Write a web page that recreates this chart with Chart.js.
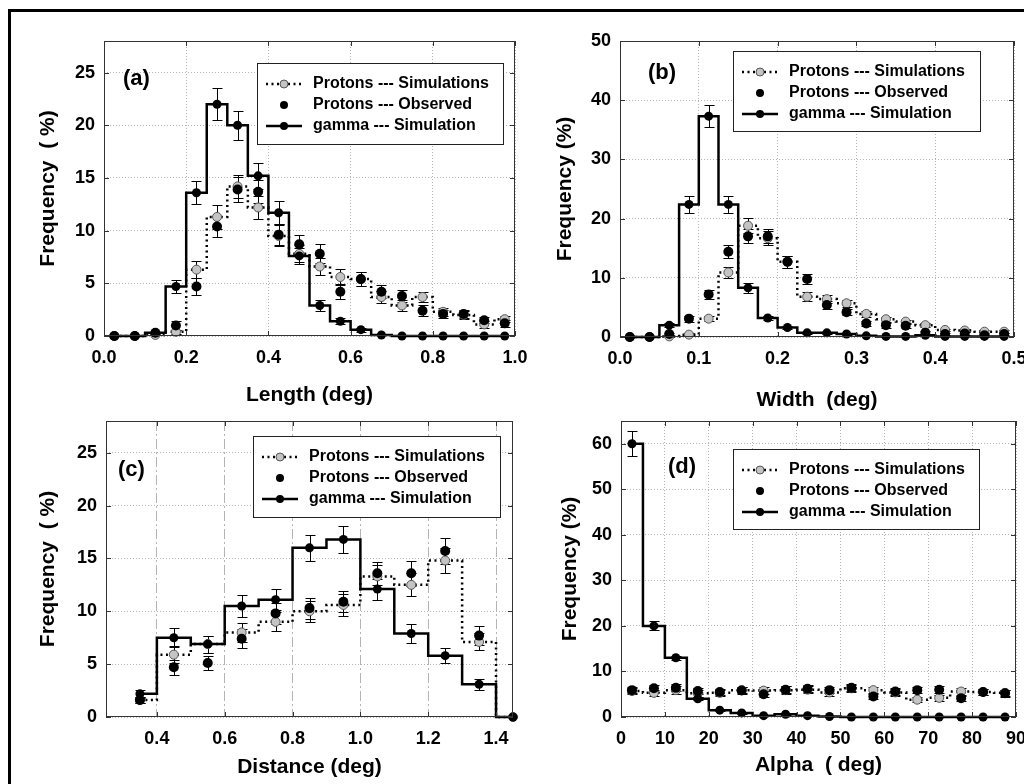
<!DOCTYPE html>
<html>
<head>
<meta charset="utf-8">
<script src="https://cdn.jsdelivr.net/npm/chart.js@4.4.1/dist/chart.umd.min.js"></script>
<style>
  html, body { margin: 0; padding: 0; background: #fff; width: 1024px; height: 784px; overflow: hidden; }
  #frame { position: absolute; left: 8px; top: 9px; width: 1100px; height: 900px;
           border-left: 3px solid #000; border-top: 3px solid #000; }
  canvas { position: absolute; }
</style>
</head>
<body>
<div id="frame"></div>
<canvas id="panelA"></canvas>
<canvas id="panelB"></canvas>
<canvas id="panelC"></canvas>
<canvas id="panelD"></canvas>
<script>
// ---- (a) Length, 0.05 deg bins ----
const lengthBins     = [0.025, 0.075, 0.125, 0.175, 0.225, 0.275, 0.325, 0.375, 0.425, 0.475, 0.525, 0.575, 0.625, 0.675, 0.725, 0.775, 0.825, 0.875, 0.925, 0.975];
const lengthTicks    = [0, 0.2, 0.4, 0.6, 0.8, 1.0];
const lengthGamma    = [0, 0, 0.3, 4.7, 13.6, 22.0, 20.0, 15.2, 11.7, 7.6, 2.9, 1.4, 0.6, 0.1, 0, 0, 0, 0, 0, 0];
const lengthGammaErr = [0, 0, 0.1, 0.6, 1.1, 1.5, 1.4, 1.2, 1.1, 0.8, 0.5, 0.3, 0.2, 0, 0, 0, 0, 0, 0, 0];
const lengthSim      = [0, 0, 0.1, 0.4, 6.3, 11.3, 14.2, 12.2, 9.5, 7.8, 6.6, 5.6, 5.4, 3.7, 2.9, 3.7, 2.3, 2.0, 1.1, 1.6];
const lengthSimErr   = [0, 0, 0, 0.2, 0.8, 1.1, 1.1, 1.1, 1.0, 0.8, 0.8, 0.8, 0.7, 0.6, 0.5, 0.5, 0.4, 0.4, 0.3, 0.3];
const lengthObs      = [0, 0, 0.3, 1.0, 4.7, 10.4, 13.9, 13.7, 9.6, 8.7, 7.8, 4.2, 5.4, 4.2, 3.8, 2.4, 2.1, 2.1, 1.5, 1.2];
const lengthObsErr   = [0, 0, 0.1, 0.4, 0.8, 1.0, 1.2, 1.1, 1.0, 0.9, 0.9, 0.7, 0.7, 0.6, 0.6, 0.5, 0.4, 0.4, 0.3, 0.3];

// ---- (b) Width, 0.025 deg bins ----
const widthBins     = [0.0125, 0.0375, 0.0625, 0.0875, 0.1125, 0.1375, 0.1625, 0.1875, 0.2125, 0.2375, 0.2625, 0.2875, 0.3125, 0.3375, 0.3625, 0.3875, 0.4125, 0.4375, 0.4625, 0.4875];
const widthTicks    = [0, 0.1, 0.2, 0.3, 0.4, 0.5];
const widthGamma    = [0, 0, 2.0, 22.4, 37.3, 22.4, 8.3, 3.2, 1.6, 0.7, 0.7, 0.5, 0.2, 0.1, 0.1, 0.3, 0.1, 0.1, 0.1, 0.1];
const widthGammaErr = [0, 0, 0.3, 1.5, 1.9, 1.5, 0.8, 0.4, 0.3, 0.2, 0.2, 0.1, 0, 0, 0, 0, 0, 0, 0, 0];
const widthSim      = [0, 0, 0.1, 0.4, 3.1, 10.9, 18.8, 16.7, 12.7, 6.8, 6.4, 5.7, 3.9, 3.0, 2.6, 2.0, 1.2, 1.1, 0.9, 0.9];
const widthSimErr   = [0, 0, 0, 0.2, 0.4, 1.0, 1.3, 1.2, 1.0, 0.8, 0.7, 0.6, 0.5, 0.4, 0.3, 0.3, 0.2, 0.2, 0.2, 0.2];
const widthObs      = [0, 0, 0.5, 3.1, 7.2, 14.4, 17.0, 17.0, 12.7, 9.8, 5.4, 4.2, 2.3, 2.0, 1.9, 0.7, 0.5, 0.6, 0.3, 0.5];
const widthObsErr   = [0, 0, 0.2, 0.5, 0.8, 1.1, 1.2, 1.2, 1.0, 0.9, 0.6, 0.5, 0.4, 0.4, 0.3, 0.3, 0.2, 0.2, 0.2, 0.2];

// ---- (c) Distance, 0.1 deg bins ----
const distanceBins     = [0.35, 0.45, 0.55, 0.65, 0.75, 0.85, 0.95, 1.05, 1.15, 1.25, 1.35, 1.45];
const distanceTicks    = [0.4, 0.6, 0.8, 1.0, 1.2, 1.4];
const distanceGamma    = [2.2, 7.5, 6.9, 10.5, 11.1, 16.0, 16.8, 12.1, 7.9, 5.8, 3.1, 0];
const distanceGammaErr = [0.4, 0.9, 0.8, 1.0, 1.0, 1.25, 1.3, 1.0, 0.9, 0.7, 0.5, 0];
const distanceSim      = [1.6, 5.9, 6.9, 8.0, 9.0, 10.0, 10.6, 13.3, 12.5, 14.8, 7.1, 0];
const distanceSimErr   = [0.3, 0.8, 0.8, 0.9, 0.9, 1.0, 1.0, 1.1, 1.1, 1.2, 0.8, 0];
const distanceObs      = [1.6, 4.7, 5.1, 7.4, 9.8, 10.3, 10.9, 13.6, 13.6, 15.7, 7.7];
const distanceObsErr   = [0.3, 0.7, 0.7, 0.9, 1.0, 1.0, 1.0, 1.1, 1.2, 1.2, 0.9];

// ---- (d) Alpha, 5 deg bins ----
const alphaBins     = [2.5, 7.5, 12.5, 17.5, 22.5, 27.5, 32.5, 37.5, 42.5, 47.5, 52.5, 57.5, 62.5, 67.5, 72.5, 77.5, 82.5, 87.5];
const alphaTicks    = [0, 10, 20, 30, 40, 50, 60, 70, 80, 90];
const alphaGamma    = [60, 20, 13, 4.0, 1.5, 0.9, 0.3, 0.6, 0.3, 0.1, 0, 0, 0, 0, 0, 0, 0, 0];
const alphaGammaErr = [2.7, 1.0, 0.5, 0.3, 0.2, 0.2, 0.1, 0.1, 0.1, 0, 0, 0, 0, 0, 0, 0, 0, 0];
const alphaSim      = [5.7, 5.3, 5.9, 5.2, 5.3, 5.9, 5.8, 5.9, 6.0, 5.4, 6.3, 5.9, 5.4, 3.8, 4.2, 5.6, 5.5, 5.3];
const alphaSimErr   = [0.7, 0.7, 0.8, 0.7, 0.7, 0.7, 0.7, 0.8, 0.8, 0.7, 0.8, 0.7, 0.7, 0.6, 0.6, 0.7, 0.7, 0.7];
const alphaObs      = [5.9, 6.3, 6.4, 5.7, 5.5, 5.8, 5.0, 6.0, 6.2, 5.9, 6.4, 4.5, 5.6, 5.9, 6.0, 4.1, 5.5, 5.2];
const alphaObsErr   = [0.7, 0.8, 0.8, 0.7, 0.7, 0.7, 0.7, 0.8, 0.8, 0.7, 0.8, 0.6, 0.7, 0.7, 0.8, 0.6, 0.7, 0.7];

const seriesLabels = ['gamma --- Simulation', 'Protons --- Observed', 'Protons --- Simulations'];

const FONT = "'Liberation Sans', Arial, Helvetica, sans-serif";
const TITLE_SIZE = 21;
const TITLE_LH = TITLE_SIZE * 1.2;

// Error bars, plot frame with inward ticks, boxed legend and panel tag
const panelDecor = {
  id: 'panelDecor',
  beforeDatasetsDraw(chart) {
    const { ctx, scales: { x, y } } = chart;
    ctx.save();
    ctx.strokeStyle = '#000';
    ctx.lineWidth = 1;
    chart.data.datasets.forEach(ds => {
      if (!ds.errorBars) return;
      ds.data.forEach((p, k) => {
        const e = ds.errorBars[k];
        if (!e || p.y == null) return;
        const px = Math.round(x.getPixelForValue(p.x)) + 0.5;
        const lo = Math.round(y.getPixelForValue(Math.max(0, p.y - e))) + 0.5;
        const hi = Math.round(y.getPixelForValue(p.y + e)) + 0.5;
        ctx.beginPath();
        ctx.moveTo(px, lo); ctx.lineTo(px, hi);
        ctx.moveTo(px - 5, lo); ctx.lineTo(px + 5, lo);
        ctx.moveTo(px - 5, hi); ctx.lineTo(px + 5, hi);
        ctx.stroke();
      });
    });
    ctx.restore();
  },
  afterDraw(chart, args, opts) {
    const { ctx, chartArea: a, scales: { x, y } } = chart;
    ctx.save();
    // frame
    ctx.strokeStyle = '#333';
    ctx.lineWidth = 1;
    ctx.strokeRect(Math.round(a.left) + 0.5, Math.round(a.top) + 0.5,
                   Math.round(a.right - a.left) - 1, Math.round(a.bottom - a.top) - 1);
    // inward tick marks on all four sides
    ctx.beginPath();
    x.ticks.forEach(t => {
      const px = Math.round(x.getPixelForValue(t.value)) + 0.5;
      ctx.moveTo(px, a.bottom); ctx.lineTo(px, a.bottom - 5);
      ctx.moveTo(px, a.top); ctx.lineTo(px, a.top + 5);
    });
    y.ticks.forEach(t => {
      const py = Math.round(y.getPixelForValue(t.value)) + 0.5;
      ctx.moveTo(a.left, py); ctx.lineTo(a.left + 5, py);
      ctx.moveTo(a.right, py); ctx.lineTo(a.right - 5, py);
    });
    ctx.stroke();

    // legend box
    const L = opts.legend;
    const bx = Math.round(a.right - L.right - L.w), by = Math.round(a.top + L.top);
    ctx.fillStyle = '#fff';
    ctx.fillRect(bx, by, L.w, L.h);
    ctx.strokeStyle = '#222';
    ctx.strokeRect(bx + 0.5, by + 0.5, L.w, L.h);
    const order = [2, 1, 0];
    order.forEach((di, r) => {
      const ds = chart.data.datasets[di];
      const yy = by + 21 * (r + 1);
      const x0 = bx + 9, x1 = bx + 45, xm = (x0 + x1) / 2;
      if (ds.showLine) {
        ctx.save();
        ctx.setLineDash(ds.borderDash || []);
        ctx.lineWidth = ds.borderWidth;
        ctx.strokeStyle = '#000';
        ctx.beginPath(); ctx.moveTo(x0, yy); ctx.lineTo(x1, yy); ctx.stroke();
        ctx.restore();
      }
      ctx.beginPath();
      ctx.arc(xm, yy, 4, 0, Math.PI * 2);
      ctx.fillStyle = ds.pointBackgroundColor;
      ctx.fill();
      if (ds.pointBorderWidth) {
        ctx.lineWidth = ds.pointBorderWidth;
        ctx.strokeStyle = ds.pointBorderColor;
        ctx.stroke();
      }
      ctx.fillStyle = '#000';
      ctx.font = `bold 16px ${FONT}`;
      ctx.textAlign = 'left';
      ctx.textBaseline = 'middle';
      ctx.fillText(ds.label, bx + 56, yy);
    });

    // panel tag
    ctx.fillStyle = '#000';
    ctx.font = `bold 22px ${FONT}`;
    ctx.textAlign = 'left';
    ctx.textBaseline = 'middle';
    ctx.fillText(opts.tag.text, a.left + opts.tag.dx, a.top + opts.tag.dy);
    ctx.restore();
  }
};

function pairs(xs, ys) {
  return ys.map((v, i) => ({ x: xs[i], y: v }));
}

function buildPanel(cfg) {
  const cv = document.getElementById(cfg.id);
  const c = cfg.canvas, p = cfg.plot;
  cv.width = c.right - c.left;
  cv.height = c.bottom - c.top;
  cv.style.left = c.left + 'px';
  cv.style.top = c.top + 'px';
  const yAxisW = p.left - c.left;
  const xAxisH = c.bottom - p.bottom;
  const tickFont = { family: FONT, size: 18, weight: 'bold' };
  const titleFont = { family: FONT, size: TITLE_SIZE, weight: 'bold' };

  new Chart(cv, {
    type: 'scatter',
    data: {
      datasets: [
        { label: seriesLabels[0], data: pairs(cfg.bins, cfg.gamma), errorBars: cfg.gammaErr,
          showLine: true, stepped: 'middle', borderColor: '#000', borderWidth: 2.5,
          pointRadius: 4.5, pointBackgroundColor: '#000', pointBorderColor: '#000', pointBorderWidth: 0, clip: false },
        { label: seriesLabels[1], data: pairs(cfg.bins, cfg.obs), errorBars: cfg.obsErr,
          showLine: false, pointRadius: 5, pointBackgroundColor: '#000', pointBorderColor: '#000', pointBorderWidth: 0, clip: false },
        { label: seriesLabels[2], data: pairs(cfg.bins, cfg.sim), errorBars: cfg.simErr,
          showLine: true, stepped: 'middle', borderColor: '#000', borderWidth: 2.5, borderDash: [2, 3.5],
          pointRadius: 4.5, pointBackgroundColor: '#c4c4c4', pointBorderColor: '#555', pointBorderWidth: 1, clip: false }
      ]
    },
    options: {
      responsive: false,
      animation: false,
      events: [],
      layout: { padding: { left: 0, top: p.top - c.top, right: c.right - p.right, bottom: 0 } },
      plugins: {
        legend: { display: false },
        tooltip: { enabled: false },
        panelDecor: { legend: cfg.legend, tag: cfg.tag }
      },
      scales: {
        x: {
          type: 'linear', min: cfg.xMin, max: cfg.xMax,
          afterBuildTicks: s => { s.ticks = cfg.xTicks.map(v => ({ value: v })); },
          ticks: { autoSkip: false, maxRotation: 0,
                   padding: 11, color: '#000', font: tickFont, callback: cfg.xFormat },
          grid: { color: '#b4b4b4', lineWidth: 1, drawTicks: false },
          border: { display: false, dash: cfg.xDash },
          title: { display: true, text: cfg.xTitle, color: '#000', font: titleFont,
                   padding: { top: 0, bottom: c.bottom - cfg.xTitleY - TITLE_LH / 2 } },
          afterFit: s => { s.height = xAxisH; }
        },
        y: {
          type: 'linear', min: 0, max: cfg.yMax,
          ticks: { stepSize: cfg.yStep, includeBounds: false, padding: 9, color: '#000', font: tickFont },
          grid: { color: '#b4b4b4', lineWidth: 1, drawTicks: false },
          border: { display: false, dash: [1, 2] },
          title: { display: true, text: cfg.yTitle, color: '#000', font: titleFont,
                   padding: { top: cfg.yTitleX - c.left - TITLE_LH / 2, bottom: 0 } },
          afterFit: s => { s.width = yAxisW; }
        }
      }
    },
    plugins: [panelDecor]
  });
}

const oneDecimal = v => Number(v).toFixed(1);
const whole = v => String(Math.round(v));

buildPanel({
  id: 'panelA',
  canvas: { left: 4, top: 0, right: 540, bottom: 420 },
  plot: { left: 104, top: 41, right: 515, bottom: 336 },
  bins: lengthBins, gamma: lengthGamma, gammaErr: lengthGammaErr,
  sim: lengthSim, simErr: lengthSimErr, obs: lengthObs, obsErr: lengthObsErr,
  xMin: 0, xMax: 1.0, xTicks: lengthTicks, xFormat: oneDecimal, xDash: [1, 2],
  yMax: 28, yStep: 5,
  xTitle: 'Length (deg)', xTitleY: 395,
  yTitle: 'Frequency  ( %)', yTitleX: 48,
  legend: { right: 12, top: 22, w: 246, h: 81 },
  tag: { text: '(a)', dx: 19, dy: 38 }
});

buildPanel({
  id: 'panelB',
  canvas: { left: 516, top: 0, right: 1040, bottom: 420 },
  plot: { left: 620, top: 41, right: 1014, bottom: 337 },
  bins: widthBins, gamma: widthGamma, gammaErr: widthGammaErr,
  sim: widthSim, simErr: widthSimErr, obs: widthObs, obsErr: widthObsErr,
  xMin: 0, xMax: 0.5, xTicks: widthTicks, xFormat: oneDecimal, xDash: [1, 2],
  yMax: 50, yStep: 10,
  xTitle: 'Width  (deg)', xTitleY: 400,
  yTitle: 'Frequency (%)', yTitleX: 565,
  legend: { right: 34, top: 10, w: 247, h: 80 },
  tag: { text: '(b)', dx: 28, dy: 32 }
});

buildPanel({
  id: 'panelC',
  canvas: { left: 4, top: 381, right: 540, bottom: 784 },
  plot: { left: 106, top: 421, right: 513, bottom: 717 },
  bins: distanceBins, gamma: distanceGamma, gammaErr: distanceGammaErr,
  sim: distanceSim, simErr: distanceSimErr, obs: distanceObs, obsErr: distanceObsErr,
  xMin: 0.25, xMax: 1.45, xTicks: distanceTicks, xFormat: oneDecimal, xDash: [10, 3, 2, 3],
  yMax: 28, yStep: 5,
  xTitle: 'Distance (deg)', xTitleY: 767,
  yTitle: 'Frequency  ( %)', yTitleX: 48,
  legend: { right: 13, top: 15, w: 247, h: 81 },
  tag: { text: '(c)', dx: 12, dy: 49 }
});

buildPanel({
  id: 'panelD',
  canvas: { left: 516, top: 381, right: 1040, bottom: 784 },
  plot: { left: 621, top: 421, right: 1016, bottom: 717 },
  bins: alphaBins, gamma: alphaGamma, gammaErr: alphaGammaErr,
  sim: alphaSim, simErr: alphaSimErr, obs: alphaObs, obsErr: alphaObsErr,
  xMin: 0, xMax: 90, xTicks: alphaTicks, xFormat: whole, xDash: [1, 2],
  yMax: 65, yStep: 10,
  xTitle: 'Alpha  ( deg)', xTitleY: 765,
  yTitle: 'Frequency (%)', yTitleX: 570,
  legend: { right: 37, top: 28, w: 246, h: 80 },
  tag: { text: '(d)', dx: 47, dy: 46 }
});
</script>
</body>
</html>
